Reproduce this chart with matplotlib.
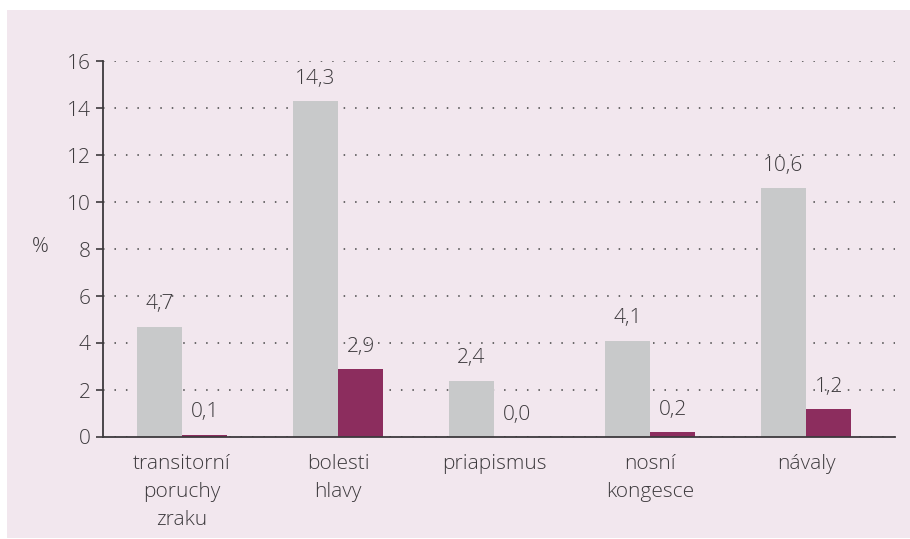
import numpy as np
import matplotlib.pyplot as plt
from matplotlib.patches import Rectangle

# data
categories = ['transitorní\nporuchy\nzraku', 'bolesti\nhlavy', 'priapismus',
              'nosní\nkongesce', 'návaly']
gray_vals = [4.7, 14.3, 2.4, 4.1, 10.6]
red_vals = [0.1, 2.9, 0.0, 0.2, 1.2]
yticks = [0, 2, 4, 6, 8, 10, 12, 14, 16]

bg = '#f2e7ee'
gray = '#c8c9ca'
maroon = '#8c2d5e'
txt = '#3d3a3d'

plt.rcParams['font.family'] = ['Open Sans', 'DejaVu Sans']
plt.rcParams['font.weight'] = 'light'
plt.rcParams['axes.labelweight'] = 'light'
fs = 15

W, H = 910, 539
fig = plt.figure(figsize=(W / 100, H / 100), dpi=100)
fig.patch.set_facecolor('white')
fig.patches.append(Rectangle((7 / W, 1 / H), 1 - 7 / W, (H - 11) / H,
                             transform=fig.transFigure, facecolor=bg,
                             edgecolor='none', zorder=-10))

ax = fig.add_axes([103 / W, 1 - 437 / H, (895 - 103) / W, (437 - 61) / H])
ax.set_facecolor('none')

x = np.arange(len(categories))
w = 0.29
b1 = ax.bar(x - w / 2, gray_vals, w, color=gray, zorder=3)
b2 = ax.bar(x + w / 2, red_vals, w, color=maroon, zorder=3)

for bars, vals in ((b1, gray_vals), (b2, red_vals)):
    for r, v in zip(bars, vals):
        ax.annotate(f'{v:.1f}'.replace('.', ','),
                    (r.get_x() + r.get_width() / 2, v),
                    xytext=(0, 16), textcoords='offset points',
                    ha='center', va='center', fontsize=fs, color=txt,
                    zorder=4)

ax.set_xlim(-0.506, 4.57)
ax.set_ylim(0, 16)
ax.set_yticks(yticks)
ax.set_yticklabels([str(t) for t in yticks], fontsize=fs, color=txt)
ax.set_xticks(x)
ax.set_xticklabels(categories, fontsize=fs, color=txt, linespacing=1.55)
ax.tick_params(axis='x', length=0, pad=12)
ax.tick_params(axis='y', length=5, width=1.2, color=txt, pad=4)

ax.yaxis.grid(True, linestyle=(0, (1, 6.5)), color='#444444', linewidth=1.1,
              zorder=1)
ax.set_axisbelow(True)
for s in ('top', 'right'):
    ax.spines[s].set_visible(False)
for s in ('left', 'bottom'):
    ax.spines[s].set_color(txt)
    ax.spines[s].set_linewidth(1.3)
    ax.spines[s].set_zorder(5)

ax.set_ylabel('%', rotation=0, fontsize=fs, color=txt, va='center',
              fontweight='light')
ax.yaxis.set_label_coords(-0.079, 0.505)

fig.savefig('out.png', dpi=100, facecolor=fig.get_facecolor())
